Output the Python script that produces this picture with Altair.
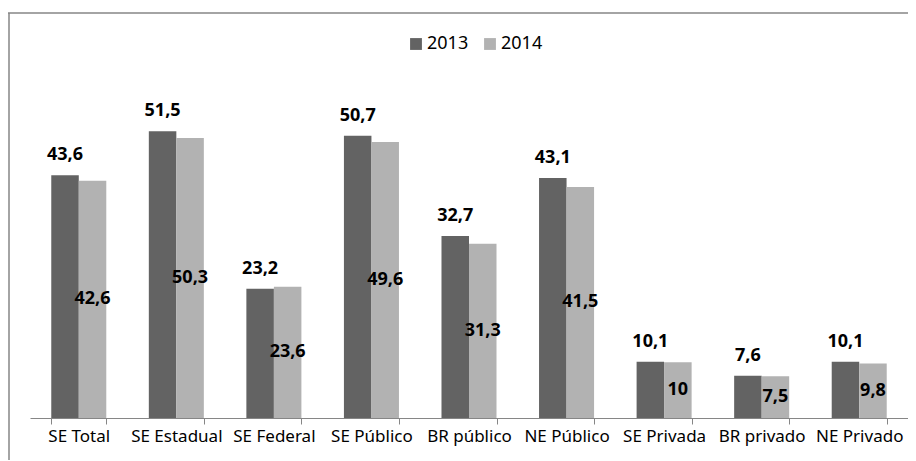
import altair as alt
import pandas as pd

categories = ["SE Total", "SE Estadual", "SE Federal", "SE Público", "BR público",
              "NE Público", "SE Privada", "BR privado", "NE Privado"]
years = ["2013", "2014"]
values_2013 = [43.6, 51.5, 23.2, 50.7, 32.7, 43.1, 10.1, 7.6, 10.1]
values_2014 = [42.6, 50.3, 23.6, 49.6, 31.3, 41.5, 10, 7.5, 9.8]

rows = []
for c, a, b in zip(categories, values_2013, values_2014):
    rows.append({"cat": c, "year": "2013", "v": a, "half": a / 2, "lbl": f"{a:g}".replace(".", ",")})
    rows.append({"cat": c, "year": "2014", "v": b, "half": b / 2, "lbl": f"{b:g}".replace(".", ",")})
df = pd.DataFrame(rows)

FONT = "Noto Sans"
PW, PH = 878, 334

xenc = alt.X("cat:N", sort=categories, title=None,
             scale=alt.Scale(paddingInner=0.436, paddingOuter=0.218),
             axis=alt.Axis(labelAngle=0, labelFontSize=17, labelFont=FONT, labelColor="#000000",
                           domainColor="#868686", tickColor="#868686", tickSize=6,
                           tickBand="extent", labelPadding=4, labelOverlap=False,
                           labelLimit=200))
xoff = alt.XOffset("year:N", sort=years, scale=alt.Scale(paddingInner=0, paddingOuter=0))
yscale = alt.Scale(domain=[0, 60])

base = alt.Chart(df)

bars = base.mark_bar().encode(
    x=xenc,
    xOffset=xoff,
    y=alt.Y("v:Q", scale=yscale, axis=None),
    color=alt.Color("year:N", sort=years,
                    scale=alt.Scale(domain=years, range=["#636363", "#b2b2b2"]),
                    legend=alt.Legend(title=None, orient="none", direction="horizontal",
                                      legendX=377, legendY=-49,
                                      symbolType="square", symbolSize=140, symbolStrokeWidth=0,
                                      labelFontSize=18, labelFont=FONT, labelColor="#000000",
                                      columnPadding=12, labelOffset=2)),
)

top_labels = base.transform_filter(alt.datum.year == "2013").mark_text(
    font=FONT, fontSize=18, fontWeight="bold", color="#000000", baseline="middle", dy=-20
).encode(x=xenc, xOffset=xoff, y=alt.Y("v:Q", scale=yscale), text="lbl:N")

mid_labels = base.transform_filter(alt.datum.year == "2014").mark_text(
    font=FONT, fontSize=18, fontWeight="bold", color="#000000", baseline="middle"
).encode(x=xenc, xOffset=xoff, y=alt.Y("half:Q", scale=yscale), text="lbl:N")

border_top = alt.Chart(pd.DataFrame({"k": [0]})).mark_rule(color="#868686", strokeWidth=1.5).encode(
    x=alt.value(-22), x2=alt.value(PW + 40), y=alt.value(-71))
border_left = alt.Chart(pd.DataFrame({"k": [0]})).mark_rule(color="#868686", strokeWidth=1.5).encode(
    x=alt.value(-21), y=alt.value(-71), y2=alt.value(PH + 80))

chart = alt.layer(bars, top_labels, mid_labels, border_top, border_left).properties(
    width=PW, height=PH,
    autosize=alt.AutoSizeParams(type="none"),
    padding={"left": 22, "top": 76, "right": 0, "bottom": 42},
    background="white",
).configure_view(stroke=None)

chart.save("out.html", embed_options={"renderer": "svg", "actions": False})
